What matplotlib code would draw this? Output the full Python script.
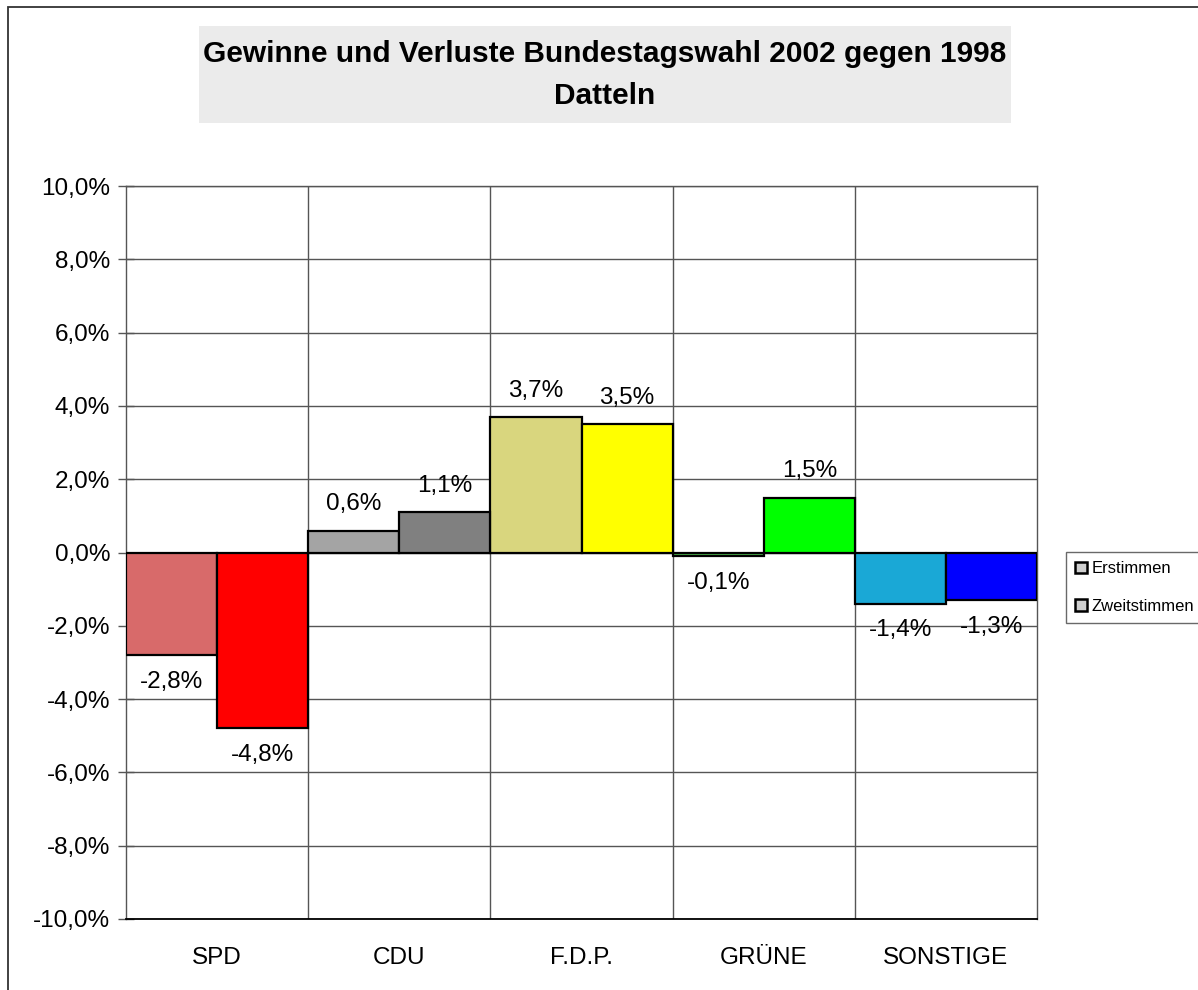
import numpy as np
import matplotlib
matplotlib.use("Agg")
import matplotlib.pyplot as plt
from matplotlib.patches import Rectangle, Patch
from matplotlib.ticker import FuncFormatter, FixedLocator

plt.rcParams['font.family'] = ['Liberation Sans', 'DejaVu Sans']

# Daten
parteien = ['SPD', 'CDU', 'F.D.P.', 'GRÜNE', 'SONSTIGE']
erststimmen = [-2.8, 0.6, 3.7, -0.1, -1.4]
zweitstimmen = [-4.8, 1.1, 3.5, 1.5, -1.3]
farben_erst = ['#D86A6A', '#A4A4A4', '#D9D67E', '#4DB84D', '#1AA8D6']
farben_zweit = ['#FF0000', '#808080', '#FFFF00', '#00FF00', '#0000FF']
legende = ['Erstimmen', 'Zweitstimmen']
titel = 'Gewinne und Verluste Bundestagswahl 2002 gegen 1998'
untertitel = 'Datteln'

W, H = 1198, 990
fig = plt.figure(figsize=(W / 100, H / 100), dpi=100)

# Rahmen um die Grafik (rechts/unten abgeschnitten)
fig.patches.append(Rectangle((8 / W, -0.1), 1.2, 1.1 - 7 / H, transform=fig.transFigure,
                             fill=False, edgecolor='#333333', linewidth=1.3))

# Titelbox
fig.patches.append(Rectangle((199 / W, 1 - 123 / H), (1011 - 199) / W, (123 - 26) / H,
                             transform=fig.transFigure, facecolor='#EBEBEB', edgecolor='none'))
fig.text(605 / W, 1 - 54 / H, titel, ha='center', va='center', fontsize=21.5, fontweight='bold')
fig.text(605 / W, 1 - 96 / H, untertitel, ha='center', va='center', fontsize=21.5, fontweight='bold')

ax = fig.add_axes([126 / W, 1 - 919 / H, (1037 - 126) / W, (919 - 186) / H])

x = np.arange(len(parteien))
b = 0.5
ax.bar(x - b / 2, erststimmen, width=b, color=farben_erst, edgecolor='black', linewidth=1.6, zorder=3)
ax.bar(x + b / 2, zweitstimmen, width=b, color=farben_zweit, edgecolor='black', linewidth=1.6, zorder=3)

def fmt(v):
    return f'{v:.1f}%'.replace('.', ',')

# Werte-Beschriftungen ueber/unter den Balken
for werte, dx in [(erststimmen, -b / 2), (zweitstimmen, b / 2)]:
    for xi, v in zip(x, werte):
        off = 19 if v >= 0 else -19
        ax.annotate(fmt(v), (xi + dx, v), xytext=(0, off), textcoords='offset points',
                    ha='center', va='center', fontsize=17.5, zorder=4)

ax.set_xlim(-0.5, len(parteien) - 0.5)
ax.set_ylim(-10, 10)
ax.set_yticks(np.arange(-10, 11, 2))
ax.yaxis.set_major_formatter(FuncFormatter(lambda v, p: fmt(v)))
ax.set_xticks(x)
ax.set_xticklabels(parteien)
ax.xaxis.set_minor_locator(FixedLocator(np.arange(0.5, len(parteien) - 0.5, 1)))

ax.tick_params(axis='y', direction='inout', length=11, width=1, color='#555555', labelsize=17.5, pad=6)
ax.tick_params(axis='x', which='major', length=0, labelsize=17.5, pad=20)
ax.tick_params(axis='x', which='minor', length=0)

ax.grid(axis='y', which='major', color='#555555', linewidth=1, zorder=0)
ax.grid(axis='x', which='minor', color='#555555', linewidth=1, zorder=0)

for s in ['top', 'right', 'left']:
    ax.spines[s].set_color('#555555')
    ax.spines[s].set_linewidth(1)
ax.spines['bottom'].set_color('black')
ax.spines['bottom'].set_linewidth(1.3)

handles = [Patch(facecolor='#CFCFCF', edgecolor='black', linewidth=1.8) for _ in legende]
leg = fig.legend(handles, legende, loc='upper left', bbox_to_anchor=(1066 / W, 1 - 552 / H),
                 fontsize=12, frameon=True, fancybox=False, handlelength=0.7, handleheight=0.7,
                 handletextpad=0.3, labelspacing=1.35, borderpad=0.55, borderaxespad=0)
leg.get_frame().set_edgecolor('#444444')
leg.get_frame().set_linewidth(1)

fig.savefig('out.png', dpi=100)
